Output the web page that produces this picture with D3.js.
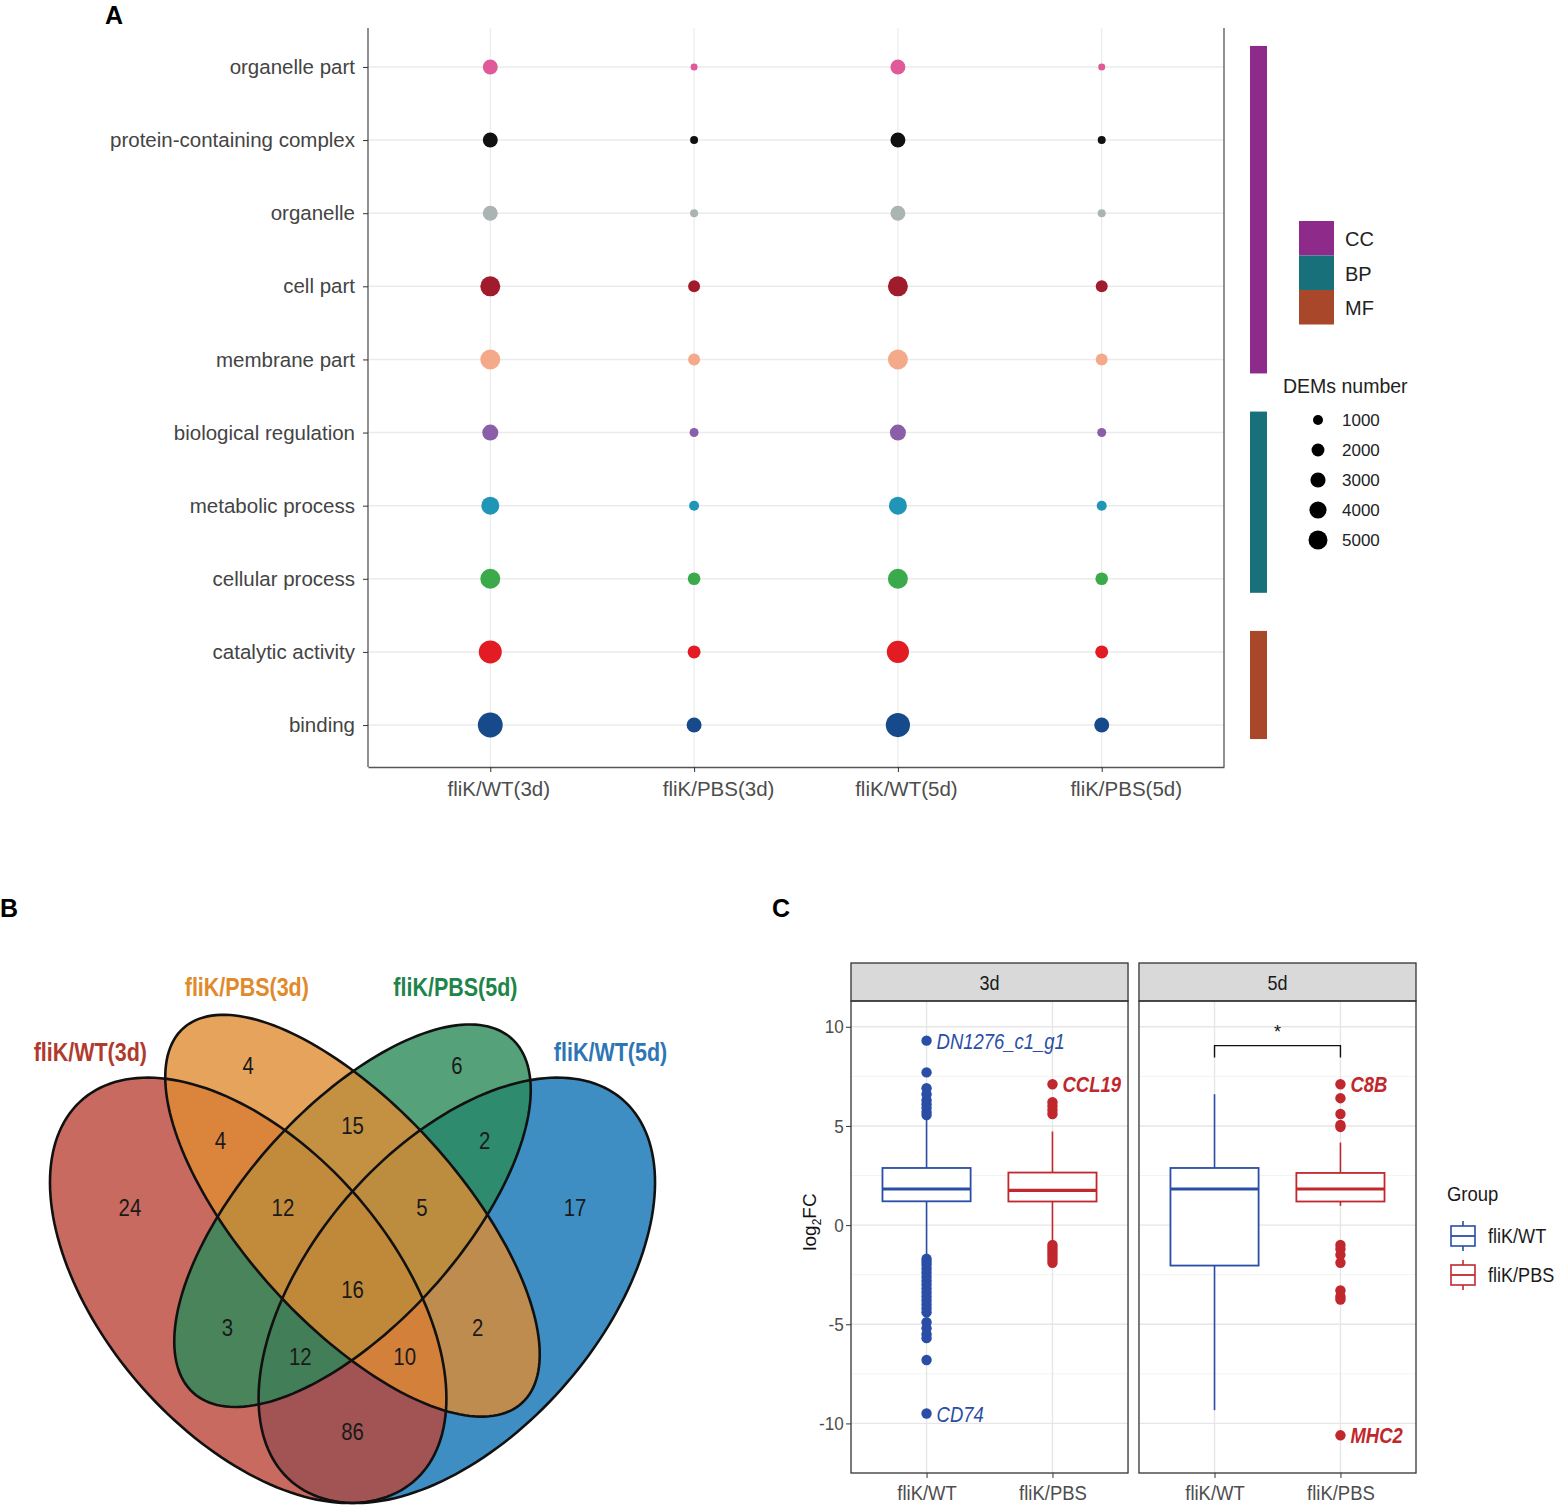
<!DOCTYPE html>
<html>
<head>
<meta charset="utf-8">
<script src="https://cdn.jsdelivr.net/npm/d3@7"></script>
<style>
  body { margin: 0; background: #fff; }
  text { font-family: "Liberation Sans", Arial, sans-serif; }
</style>
</head>
<body>
<svg id="fig" width="1560" height="1511"></svg>
<script>
// ---- Panel A: GO terms x comparisons ----
const goTerms = [
  "organelle part", "protein-containing complex", "organelle", "cell part",
  "membrane part", "biological regulation", "metabolic process",
  "cellular process", "catalytic activity", "binding"
];
const goOntology = ["CC", "CC", "CC", "CC", "CC", "BP", "BP", "BP", "MF", "MF"];
const goColors = [
  "#e05a9a", "#111111", "#aab4b3", "#a01c2c", "#f4a98a",
  "#8b5ea8", "#1f96b7", "#3aaa4a", "#e31b23", "#174a8b"
];
const comparisons = ["fliK/WT(3d)", "fliK/PBS(3d)", "fliK/WT(5d)", "fliK/PBS(5d)"];
// DEMs number per term (rows) and comparison (columns)
const demCounts = [
  [2900, 200, 2900, 200],
  [2900, 430, 2900, 430],
  [2900, 430, 2900, 430],
  [5600, 1650, 5600, 1650],
  [5600, 1650, 5600, 1650],
  [3400, 700, 3400, 700],
  [4400, 990, 4400, 990],
  [5600, 1900, 5600, 1900],
  [7600, 2050, 7000, 2050],
  [9000, 2900, 8500, 2900]
];
const ontologies = ["CC", "BP", "MF"];
const ontologyColors = ["#8e2b8a", "#17707a", "#a8472a"];
const sizeBreaks = [1000, 2000, 3000, 4000, 5000];

// ---- Panel B: Venn ----
const vennSets = ["fliK/WT(3d)", "fliK/PBS(3d)", "fliK/PBS(5d)", "fliK/WT(5d)"];
const vennColors = ["#bb4538", "#e08c33", "#2b8b59", "#0e72b5"];
const vennLabelColors = ["#b03a2e", "#e08a2c", "#1e8449", "#2e75b6"];
// ellipse: centre x, centre y, semi-axis a, semi-axis b, rotation (deg), in unit space
const vennEllipses = [
  [0.35, 0.47, 0.35, 0.20, 135],
  [0.50, 0.57, 0.35, 0.15, 135],
  [0.50, 0.57, 0.33, 0.15, 45],
  [0.65, 0.47, 0.35, 0.20, 45]
];
const vennCounts = [4, 15, 6, 4, 12, 16, 5, 2, 24, 3, 12, 86, 10, 2, 17];
const vennCountPos = [
  [0.35, 0.77], [0.50, 0.69], [0.65, 0.77], [0.31, 0.67], [0.40, 0.58],
  [0.50, 0.47], [0.60, 0.58], [0.69, 0.67], [0.18, 0.58], [0.32, 0.42],
  [0.425, 0.38], [0.50, 0.28], [0.575, 0.38], [0.68, 0.42], [0.82, 0.58]
];
const vennSetLabelPos = [[0.123, 0.79], [0.348, 0.877], [0.648, 0.877], [0.871, 0.79]];

// ---- Panel C: log2FC boxplots ----
const facets = ["3d", "5d"];
const groups = ["fliK/WT", "fliK/PBS"];
const groupColors = ["#2a4ea6", "#c0282d"];
const boxFacet = ["3d", "3d", "5d", "5d"];
const boxGroup = ["fliK/WT", "fliK/PBS", "fliK/WT", "fliK/PBS"];
const whiskerLow = [-1.55, -0.85, -9.33, 0.97];
const boxQ1 = [1.2, 1.19, -2.04, 1.19];
const boxMedian = [1.82, 1.75, 1.82, 1.82];
const boxQ3 = [2.88, 2.65, 2.88, 2.63];
const whiskerHigh = [5.3, 4.72, 6.6, 4.16];
const outliers = [
  [5.55, 5.7, 5.9, 6.1, 6.3, 6.6, 6.9, 7.7, 9.3,
   -1.7, -1.85, -2.0, -2.2, -2.4, -2.6, -2.8, -3.0, -3.2, -3.4, -3.6, -3.8, -4.0, -4.2, -4.4,
   -4.9, -5.2, -5.5, -5.7, -6.8, -9.5],
  [5.6, 5.8, 6.0, 6.2, 7.1, -1.0, -1.15, -1.3, -1.45, -1.6, -1.75, -1.9],
  [],
  [4.95, 5.05, 5.6, 6.4, 7.1, -1.0, -1.2, -1.5, -1.9, -3.3, -3.6, -3.75, -10.6]
];
const geneLabels = [
  { facet: "3d", group: "fliK/WT", value: 9.3, name: "DN1276_c1_g1", bold: false },
  { facet: "3d", group: "fliK/PBS", value: 7.1, name: "CCL19", bold: true },
  { facet: "3d", group: "fliK/WT", value: -9.5, name: "CD74", bold: false },
  { facet: "5d", group: "fliK/PBS", value: 7.1, name: "C8B", bold: true },
  { facet: "5d", group: "fliK/PBS", value: -10.6, name: "MHC2", bold: true }
];
const yTicksC = [-10, -5, 0, 5, 10];
const yMinorC = [-7.5, -2.5, 2.5, 7.5];
const signif = { facet: "5d", from: "fliK/WT", to: "fliK/PBS", y: 9.05, label: "*" };

const svg = d3.select("#fig");
svg.append("rect").attr("width", 1560).attr("height", 1511).attr("fill", "#fff");

// condensed text: draw at (x, y), squeezed horizontally
function narrowText(parent, x, y, str, squeeze) {
  return parent.append("text")
    .attr("transform", `translate(${x},${y}) scale(${squeeze},1)`)
    .text(str);
}

// panel letters
svg.append("text").attr("x", 105).attr("y", 24).text("A")
  .attr("font-size", 25).attr("font-weight", "bold");
svg.append("text").attr("x", 0).attr("y", 917).text("B")
  .attr("font-size", 25).attr("font-weight", "bold");
svg.append("text").attr("x", 772).attr("y", 917).text("C")
  .attr("font-size", 25).attr("font-weight", "bold");

// ================= Panel A =================
const gA = svg.append("g");
const xA = d3.scalePoint().domain(comparisons).range([368, 1224]).padding(0.6);
const yA = d3.scalePoint().domain(goTerms).range([26, 766]).padding(0.56);
// point area grows linearly with DEMs number
const areaA = d3.scaleLinear().domain([0, 5000]).range([9, 90]);
const rA = v => Math.sqrt(areaA(v));

// grid
gA.selectAll(".hgrid").data(goTerms).join("line")
  .attr("x1", 368).attr("x2", 1224)
  .attr("y1", d => yA(d)).attr("y2", d => yA(d))
  .attr("stroke", "#ebebeb").attr("stroke-width", 1.6);
gA.selectAll(".vgrid").data(comparisons).join("line")
  .attr("x1", d => xA(d)).attr("x2", d => xA(d))
  .attr("y1", 28).attr("y2", 767)
  .attr("stroke", "#ebebeb").attr("stroke-width", 1.2);

// axes
const axAx = gA.append("g").attr("transform", "translate(0,767)")
  .call(d3.axisBottom(xA).tickSize(5).tickSizeOuter(0));
axAx.select(".domain").attr("stroke", "#555").attr("stroke-width", 1.3);
axAx.selectAll(".tick line").attr("stroke", "#333");
axAx.selectAll(".tick text").attr("font-size", 20.5).attr("fill", "#4d4d4d")
  .attr("dy", "1.0em").attr("dx", (d, i) => (i % 2 ? 24 : 8));

const ayAx = gA.append("g").attr("transform", "translate(368,0)")
  .call(d3.axisLeft(yA).tickSize(5).tickSizeOuter(0));
ayAx.select(".domain").attr("stroke", "#555").attr("stroke-width", 1.3)
  .attr("d", "M0,28V767");
ayAx.selectAll(".tick line").attr("stroke", "#333");
ayAx.selectAll(".tick text").attr("font-size", 20.5).attr("fill", "#444").attr("x", -13);
gA.append("line").attr("x1", 1224).attr("x2", 1224).attr("y1", 28).attr("y2", 767)
  .attr("stroke", "#555").attr("stroke-width", 1.3);

// dots
const dotData = goTerms.flatMap((t, i) =>
  comparisons.map((c, j) => ({ term: t, comp: c, n: demCounts[i][j], color: goColors[i] })));
gA.selectAll(".dot").data(dotData).join("circle")
  .attr("cx", d => xA(d.comp)).attr("cy", d => yA(d.term))
  .attr("r", d => rA(d.n)).attr("fill", d => d.color);

// ontology side bars
ontologies.forEach((o, k) => {
  const rows = goTerms.filter((t, i) => goOntology[i] === o);
  const y0 = yA(rows[0]) - 21, y1 = yA(rows[rows.length - 1]) + 14;
  gA.append("rect").attr("x", 1250).attr("y", y0).attr("width", 17)
    .attr("height", y1 - y0).attr("fill", ontologyColors[k]);
});

// ontology legend
const legO = gA.append("g").attr("transform", "translate(1299,221)");
ontologies.forEach((o, k) => {
  legO.append("rect").attr("x", 0).attr("y", k * 34.5).attr("width", 35).attr("height", 34.5)
    .attr("fill", ontologyColors[k]);
  legO.append("text").attr("x", 46).attr("y", k * 34.5 + 25).text(o)
    .attr("font-size", 20).attr("fill", "#222");
});

// size legend
const legS = gA.append("g").attr("transform", "translate(1283,0)");
legS.append("text").attr("x", 0).attr("y", 393).text("DEMs number")
  .attr("font-size", 19.5).attr("fill", "#222");
sizeBreaks.forEach((v, k) => {
  legS.append("circle").attr("cx", 35).attr("cy", 420 + k * 30).attr("r", rA(v))
    .attr("fill", "#000");
  legS.append("text").attr("x", 59).attr("y", 426 + k * 30).text(v)
    .attr("font-size", 17).attr("fill", "#222");
});

// ================= Panel B =================
const gB = svg.append("g");
const vx = d3.scaleLinear().domain([0.065, 0.935]).range([50, 655]);
const vy = d3.scaleLinear().domain([0.185, 0.839]).range([1503, 1015]);
const ellipsePath = ([cx, cy, a, b, rot]) => {
  const th = rot * Math.PI / 180;
  const pts = d3.range(0, 2 * Math.PI, Math.PI / 90).map(t => [
    vx(cx + a * Math.cos(t) * Math.cos(th) - b * Math.sin(t) * Math.sin(th)),
    vy(cy + a * Math.cos(t) * Math.sin(th) + b * Math.sin(t) * Math.cos(th))
  ]);
  return d3.line().curve(d3.curveLinearClosed)(pts);
};
const drawOrder = [3, 0, 2, 1];
drawOrder.forEach(i => {
  gB.append("path").attr("d", ellipsePath(vennEllipses[i]))
    .attr("fill", vennColors[i]).attr("fill-opacity", 0.8);
});
vennEllipses.forEach(e => {
  gB.append("path").attr("d", ellipsePath(e))
    .attr("fill", "none").attr("stroke", "#111").attr("stroke-width", 2.6);
});
vennCounts.forEach((c, i) => {
  narrowText(gB, vx(vennCountPos[i][0]), vy(vennCountPos[i][1]) + 8, c, 0.85)
    .attr("text-anchor", "middle").attr("font-size", 24).attr("fill", "#1a1a1a");
});
vennSets.forEach((s, i) => {
  narrowText(gB, vx(vennSetLabelPos[i][0]), vy(vennSetLabelPos[i][1]) + 9, s, 0.86)
    .attr("text-anchor", "middle").attr("font-size", 25).attr("font-weight", "bold")
    .attr("fill", vennLabelColors[i]);
});

// ================= Panel C =================
const gC = svg.append("g");
const panelTop = 1001, panelBottom = 1473;
const facetX = d3.scaleBand().domain(facets).range([851, 1416]).paddingInner(0.038);
const xC = d3.scalePoint().domain(groups).range([0, facetX.bandwidth()]).padding(0.6);
const yC = d3.scaleLinear().domain([-12.5, 11.3]).range([panelBottom, panelTop]);
const colorC = d3.scaleOrdinal().domain(groups).range(groupColors);
const boxHalf = xC.step() * 0.35;

facets.forEach(f => {
  const g = gC.append("g").attr("transform", `translate(${facetX(f)},0)`);
  const w = facetX.bandwidth();
  yMinorC.forEach(v => g.append("line").attr("x1", 0).attr("x2", w)
    .attr("y1", yC(v)).attr("y2", yC(v)).attr("stroke", "#f3f3f3").attr("stroke-width", 1));
  yTicksC.forEach(v => g.append("line").attr("x1", 0).attr("x2", w)
    .attr("y1", yC(v)).attr("y2", yC(v)).attr("stroke", "#e6e6e6").attr("stroke-width", 1.4));
  groups.forEach(gr => g.append("line").attr("x1", xC(gr)).attr("x2", xC(gr))
    .attr("y1", panelTop).attr("y2", panelBottom).attr("stroke", "#e6e6e6").attr("stroke-width", 1.4));

  // strip
  g.append("rect").attr("x", 0).attr("y", 963).attr("width", w).attr("height", panelTop - 963)
    .attr("fill", "#d9d9d9").attr("stroke", "#333").attr("stroke-width", 1.3);
  narrowText(g, w / 2, 990, f, 0.9)
    .attr("text-anchor", "middle").attr("font-size", 20).attr("fill", "#1a1a1a");

  // x axis
  const ax = g.append("g").attr("transform", `translate(0,${panelBottom})`)
    .call(d3.axisBottom(xC).tickSize(5).tickSizeOuter(0));
  ax.select(".domain").remove();
  ax.selectAll(".tick line").attr("stroke", "#333");
  ax.selectAll(".tick text").attr("font-size", 21).attr("fill", "#4d4d4d")
    .attr("dy", "0.9em").attr("transform", "scale(0.88,1)");
});

// y axis on first facet
const ayC = gC.append("g").attr("transform", `translate(${facetX(facets[0])},0)`)
  .call(d3.axisLeft(yC).tickValues(yTicksC).tickSize(5).tickFormat(d => String(d)));
ayC.select(".domain").remove();
ayC.selectAll(".tick line").attr("stroke", "#333");
ayC.selectAll(".tick text").attr("font-size", 19).attr("fill", "#4d4d4d")
  .attr("transform", "scale(0.9,1)");

const ytitle = gC.append("text")
  .attr("transform", "translate(816,1222) rotate(-90)")
  .attr("text-anchor", "middle").attr("font-size", 19).attr("fill", "#111");
ytitle.append("tspan").text("log");
ytitle.append("tspan").attr("font-size", 12).attr("dy", 5).text("2");
ytitle.append("tspan").attr("dy", -5).text("FC");

// boxes
boxFacet.forEach((f, i) => {
  const cx = facetX(f) + xC(boxGroup[i]);
  const col = colorC(boxGroup[i]);
  const g = gC.append("g");
  g.append("line").attr("x1", cx).attr("x2", cx)
    .attr("y1", yC(whiskerHigh[i])).attr("y2", yC(boxQ3[i])).attr("stroke", col).attr("stroke-width", 1.6);
  g.append("line").attr("x1", cx).attr("x2", cx)
    .attr("y1", yC(boxQ1[i])).attr("y2", yC(whiskerLow[i])).attr("stroke", col).attr("stroke-width", 1.6);
  g.append("rect").attr("x", cx - boxHalf).attr("width", boxHalf * 2)
    .attr("y", yC(boxQ3[i])).attr("height", yC(boxQ1[i]) - yC(boxQ3[i]))
    .attr("fill", "#fff").attr("stroke", col).attr("stroke-width", 1.8);
  g.append("line").attr("x1", cx - boxHalf).attr("x2", cx + boxHalf)
    .attr("y1", yC(boxMedian[i])).attr("y2", yC(boxMedian[i]))
    .attr("stroke", col).attr("stroke-width", 3.2);
  g.selectAll("circle").data(outliers[i]).join("circle")
    .attr("cx", cx).attr("cy", d => yC(d)).attr("r", 5.2).attr("fill", col);
});

// panel borders
facets.forEach(f => {
  gC.append("rect").attr("x", facetX(f)).attr("y", panelTop)
    .attr("width", facetX.bandwidth()).attr("height", panelBottom - panelTop)
    .attr("fill", "none").attr("stroke", "#333").attr("stroke-width", 1.3);
});

// gene labels
geneLabels.forEach(d => {
  narrowText(gC, facetX(d.facet) + xC(d.group) + 10, yC(d.value) + 8, d.name, 0.84)
    .attr("font-size", 22).attr("font-style", "italic")
    .attr("font-weight", d.bold ? "bold" : "normal")
    .attr("fill", colorC(d.group));
});

// significance bracket
{
  const x1 = facetX(signif.facet) + xC(signif.from), x2 = facetX(signif.facet) + xC(signif.to);
  const yb = yC(signif.y);
  gC.append("path").attr("d", `M${x1},${yb + 12}V${yb}H${x2}V${yb + 12}`)
    .attr("fill", "none").attr("stroke", "#111").attr("stroke-width", 1.4);
  gC.append("text").attr("x", (x1 + x2) / 2).attr("y", yb - 8).attr("text-anchor", "middle")
    .attr("font-size", 18).attr("fill", "#111").text(signif.label);
}

// group legend
const legC = gC.append("g").attr("transform", "translate(1447,0)");
narrowText(legC, 0, 1201, "Group", 0.88).attr("font-size", 21).attr("fill", "#1a1a1a");
groups.forEach((gr, k) => {
  const cy = 1236 + k * 39, col = colorC(gr);
  legC.append("line").attr("x1", 16).attr("x2", 16).attr("y1", cy - 15).attr("y2", cy + 15)
    .attr("stroke", col).attr("stroke-width", 1.6);
  legC.append("rect").attr("x", 4).attr("y", cy - 10).attr("width", 24).attr("height", 20)
    .attr("fill", "#fff").attr("stroke", col).attr("stroke-width", 1.6);
  legC.append("line").attr("x1", 4).attr("x2", 28).attr("y1", cy).attr("y2", cy)
    .attr("stroke", col).attr("stroke-width", 1.8);
  narrowText(legC, 41, cy + 7, gr, 0.86).attr("font-size", 21).attr("fill", "#1a1a1a");
});
</script>
</body>
</html>
